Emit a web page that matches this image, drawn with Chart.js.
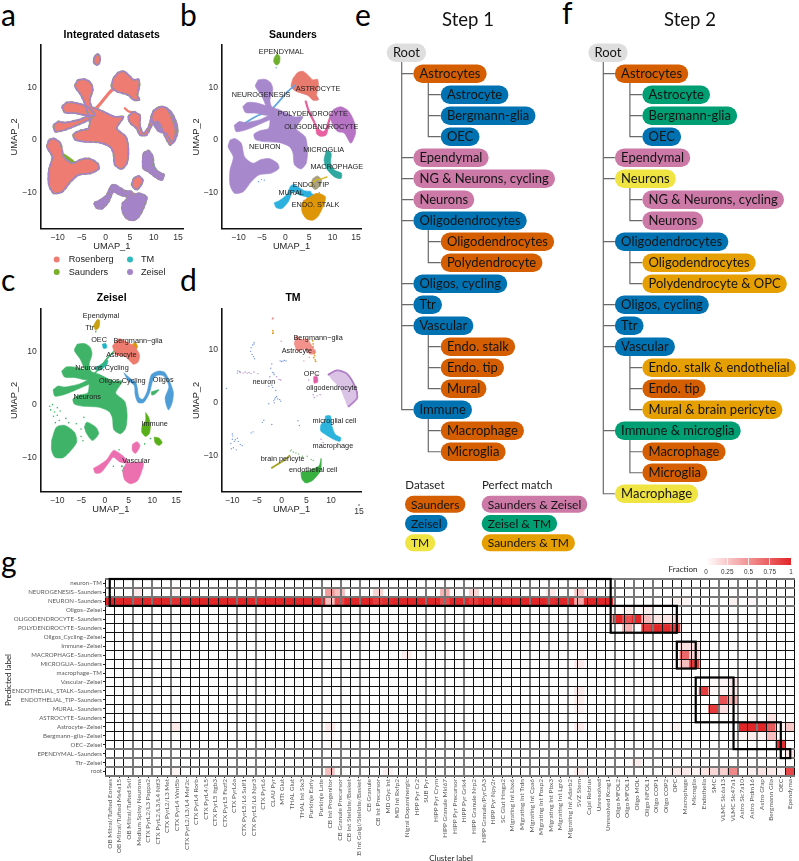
<!DOCTYPE html>
<html>
<head>
<meta charset="utf-8">
<title>Integrated datasets</title>
<script src="https://cdn.jsdelivr.net/npm/chart.js@4"></script>
<style>
  html, body { margin: 0; padding: 0; background: #fff; overflow: hidden; }
  #page { position: relative; width: 799px; height: 861px; }
  canvas { position: absolute; }
  .letter { position: absolute; font: 30px Lato, sans-serif; color: #000; line-height: 30px; }
</style>
</head>
<body>
<div id="page">
  <div class="letter" style="left:1px;top:-1px">a</div>
  <div class="letter" style="left:180px;top:-1px">b</div>
  <div class="letter" style="left:1px;top:264px">c</div>
  <div class="letter" style="left:180px;top:264px">d</div>
  <div class="letter" style="left:355px;top:-1px">e</div>
  <div class="letter" style="left:562px;top:-3px">f</div>
  <div class="letter" style="left:1px;top:546px">g</div>
</div>
<script>
// islands of the shared UMAP, traced by eye in UMAP units
const neuronCore = [[-5.8,11.4],[-4.3,11.5],[-3.1,10.8],[-2.7,9.5],[-3.3,7.6],[-2.9,6.3],[-1.2,5.7],[1.9,4.4],[3.7,4.4],[2.3,2.2],[4.2,.6],[4.7,-1.9],[4.4,-4.4],[3.3,-5.5],[1.9,-4.7],[1.6,-2.5],[.9,-1.3],[-1.2,-.5],[-4.6,-.3],[-6.4,.1],[-6.7,1.1],[-5.3,1.8],[-3.6,2.2],[-3.3,3.8],[-3.6,4.7],[-4.4,7],[-5.2,8.6],[-6.4,10.2]];
const neuronArmUpper = [[-9.1,6.3],[-8.1,7.1],[-6,7],[-3.6,6.2],[-2.2,4.7],[-4.3,4.7],[-6.4,5.1],[-8.5,5.2]];
const neuronArmLower = [[-10.9,2.8],[-9.8,3.5],[-8.5,3.3],[-5.3,3.9],[-3.3,4.7],[-2.9,4.1],[-6,2.8],[-8.5,1.9],[-10.5,1.6]];
const neuronLowerLeft = [[-11.8,0],[-10.8,.3],[-9.4,-.6],[-8.7,-3.2],[-6.9,-4.4],[-5.2,-3.7],[-3.5,-3.5],[-1.7,-4.4],[-1.4,-5.4],[-3.1,-6.3],[-5.6,-6.6],[-7.3,-7.9],[-9,-9.8],[-10.8,-10.1],[-11.8,-8.5],[-11.8,-5.7],[-11.1,-3.2],[-12.2,-1.3]];
const astroTop = [[1.6,11.7],[2.6,12.8],[3.8,13],[5.1,12],[5.8,11.4],[6.8,11.5],[7,10.3],[6.6,8.5],[7,7.6],[5.8,7.6],[4.7,8.5],[2.3,9.2],[1.2,10.1]];
const oligoRibbon = [[5.8,5.4],[7.1,4.7],[7.1,2.8],[7.8,1.3],[8.9,2.5],[9.9,5.4],[11.3,6.3],[12.7,6],[14.4,2.5],[14.4,.6],[13.4,-.95],[12,1.3],[11.4,2.8],[10.6,3.5],[9.6,2.8],[8.5,.95],[7.1,.95],[6.4,2.2],[5.1,3.2],[4.7,4.4]];
const oligoCrescent = [[9.4,4.4],[10.1,5.7],[11.8,6.3],[13.5,5.4],[14.7,3.2],[14.9,1.3],[13.9,-.6],[12.5,1.3],[11.1,1.6],[10.1,2.8]];
const immuneShape = [[7.8,-2.5],[8.9,-2],[9.8,-3.2],[10,-5.1],[10.9,-6],[12.1,-6.6],[11.6,-7.6],[10.3,-7],[8.9,-6],[7.8,-5.4],[7.7,-3.8]];
const macrophageThin = [[8.7,-1.9],[9.7,-2.5],[9.6,-4.4],[10.4,-5.7],[11.9,-6.3],[11.8,-7.3],[10.4,-7],[8.7,-5.4],[8.2,-3.8]];
const vascularSmall = [[5.8,-7.3],[6.8,-6.8],[7.7,-7.6],[7.1,-8.9],[6.3,-9.4],[5.4,-8.5]];
const muralArm = [[-2.4,-11.9],[-1.2,-11.4],[.2,-10.4],[1.1,-8.7],[1.9,-8.5],[4,-9.6],[5.4,-9.8],[5.1,-10.8],[3,-10.4],[1.6,-9.8],[.6,-11.7],[-.8,-13],[-2,-12.8]];
const endoStalk = [[4.7,-10.8],[6.8,-10.1],[8.5,-10.8],[7.8,-13],[6.8,-14.6],[5.8,-15.2],[4.4,-14.9],[3.5,-13.6],[3.5,-12],[4.2,-11.4]];
const ependymalBlob = [[-2.4,15.6],[-1.8,16.3],[-1.2,15.8],[-1.3,14.6],[-1.9,14.2],[-2.5,14.8]];
const neurogenesisStripe = [[-9.4,2.9],[-8.7,3.2],[-6,4.6],[-3.5,5.4],[-1.7,7],[.5,9.2],[2.1,10.4]];
const astroStripe = [[-2.2,5.8],[-1,7],[.6,8.8],[1.9,10]];
const hookSpur = [[4,6],[4.8,5.4],[5.8,5.2]];

// overlays of the integrated panel
const greenPatchLeft = [[-8.8,-2.5],[-6.4,-4.2],[-8.5,-4.9],[-9.8,-3.5]];
const greenPatchArm = [[1.9,1.3],[3.3,.3],[2.3,-.6],[1.2,.3]];
const greenPatchDrop = [[2,-2],[3.3,-3],[2.7,-5],[1.8,-4.5]];
const greenPatchOligo = [[10.6,4.75],[12.3,5],[13.4,1.6],[12,2.2],[10.9,3.2]];
const tealPatchOligo = [[12.1,3.4],[13,2.8],[13.5,-.2],[12.7,1.2]];
const purplePatchOligo = [[12.6,5.8],[14.3,2.6],[14.3,.6],[13.5,-.8],[13.9,1.8]];
const purplePatchAstro = [[5.2,8.6],[6.8,8.2],[6.9,7.7],[5.8,7.6]];
const purplePatchImmune = [[7.9,-4.4],[9.6,-4.5],[10.3,-7],[8.9,-6],[7.8,-5.4]];
const tealPatchImmune = [[9.6,-3.2],[10.2,-5],[11.2,-6.4],[10.2,-6.2]];
const purplePatchStalk = [[3.8,-11.4],[8.2,-11],[7.5,-13],[6.6,-14.4],[5.7,-14.9],[4.6,-14.6],[3.8,-13.5]];
const salmonStreakStalk = [[5.2,-10],[5.9,-10],[6,-14.6],[5.4,-14.6]];
const purpleStripeMural = [[1.7,-8.9],[4,-9.9],[5.6,-10.4]];
const salmonVascularDot = [[5.9,-7.5],[7.3,-7.6],[6.8,-8.8],[6,-8.8]];

// Saunders panel extras
const astroPurplePatch = [[2.4,9.8],[4.6,9.6],[5.2,8.4],[4.4,8.6],[3,9.1]];
const polyStripe = [[4.3,7.3],[4.9,5.6],[6.2,3.2],[7.2,1.3],[8.4,1.2],[9.1,3.2],[9.8,5]];
const polyBlob = [[6.5,2.6],[8,1.6],[9.1,2.6],[8.6,.9],[7.4,.7],[6.6,1.2]];
const endoTipStripe = [[5.4,-8.6],[6.4,-7.6],[7.4,-7.4],[8.8,-7]];
const mural2Stripe = [[2.4,-9.8],[4.2,-10.1],[5.6,-10.3]];
const saundersSpeck = [[-2,13.7],[-1.6,15.3],[-4.5,-7.6],[-5.1,-7.5],[-5.7,-7.9],[-3.4,2.4],[7.2,-10],[1.5,-12.2]];

// Zeisel panel
const zeiselLowerLeft = [[-11.2,-6.75],[-10.2,-4.25],[-8.5,-3.9],[-6.4,-5.2],[-5.9,-7],[-7.1,-8.6],[-8.8,-10],[-10.5,-9.9],[-11.2,-8.6]];
const zeiselLowerRight = [[-4.3,-4.25],[-3.8,-3.3],[-1.9,-4.25],[-1.3,-5.5],[-2.6,-6.75],[-3.8,-5.5]];
const zeiselEpendymal = [[-2.4,14.8],[-1.6,16],[-1.1,15.9],[-1.2,14.6],[-1.9,14]];
const zeiselOec = [[-.5,11.4],[.2,11.5],[.4,10.7],[-.3,10.6]];
const zeiselBergmann = [[5.4,11],[6.4,11.7],[6.9,10.8],[6,10.2]];
const zeiselAstrocyte = [[1.6,11],[3,12.4],[4.6,11.8],[6.2,11],[7.3,9.4],[7,8],[6,7.6],[4.4,9],[2.4,9.4]];
const zeiselCycling = [[-2.2,6.8],[-.4,7.8],[.6,8.4],[.5,7.6],[-1.2,6.4]];
const zeiselOligoRibbon = [[4,6],[5.4,4.9],[6.6,4],[7.2,1.4],[8,1],[8.9,2.4],[9.8,5.6],[11.2,6.3],[12.7,6],[14.4,2.5],[14.2,.4],[13.4,-1],[12.7,1.2],[13.5,3.4],[12.4,5.4],[11,5.5],[10.2,4.8],[9.4,2.2],[8.2,.4],[7,.4],[6.4,1.8],[6.2,3.6],[4.8,4.7]];
const zeiselGreenSpur = [[9.8,2.4],[11.4,2.8],[10.6,2],[9.9,1.8]];
const zeiselImmune = [[8.6,-1.5],[9.3,-2.5],[9.6,-4],[9.4,-5.4],[8.6,-6],[7.8,-5.2],[7.9,-3.9],[8.6,-3]];
const zeiselImmune2 = [[10.4,-6.1],[11.4,-6.3],[12.1,-7.2],[11.4,-7.7],[10.6,-7.2]];
const zeiselVascularTop = [[5.8,-7.5],[6.8,-7],[7.4,-7.7],[7,-8.6],[6.4,-9.2],[5.8,-8.6]];
const zeiselMural = [[-2.4,-12],[-1.2,-11.4],[.4,-10.4],[1.4,-9],[2,-8.6],[4,-9.8],[5,-11],[3.2,-10.8],[1.8,-9.9],[.8,-11],[-.8,-12.8],[-2,-12.9]];
const zeiselVascular = [[4.4,-11.2],[6,-10.9],[8.1,-11],[7.6,-13],[6.8,-14.4],[5.4,-14.9],[4.2,-14.2],[3.8,-12.6]];
const zeiselSpeck = [[-11.6,-.3],[-11,0],[-11.4,-1],[-10.6,-1.4],[-10.8,-2.2],[-10,-.6],[-10,-2],[-9.6,-3],[-10.4,-3.4],[-9.4,-1.2],[-8.2,-2.6],[-7.6,-3.4],[-6,-3.6],[-5,-4.6],[-5,-6],[-4.6,-6.8],[-1.9,13.7],[-4.4,-2.4],[3,-8.5],[1.8,-11.6],[8.4,-7.4],[9.6,-6.4]];
const zeiselGreenSpeck = [[4,-12],[3.8,-12.4],[4.4,-12.6],[3.6,-11.6],[4.2,-11.8]];

// TM panel, single cells
const tmNeuronX = [-5.6,-5.9,-6.2,-6.3,-6,-5.7,-5.5,-5.6,-8.9,-9,-8.5,-2,-2.2,-1.8,-1.5,-2.4,-2,-.3,0,.3,.6,.9,-1.6,-1.4,-1.2,-1,-.8,-.4,-.2,-1.5,-2.6,-1.8,-1.2,-3.6,-3.9,-9.9,-10,-9.6,-10.3,-9.4,-9,-8.8,-8.4,-10.2,-9.8,-9.2,-10,-8,-6.2,-5.8,-1.6,-2.6,3.3,3.6,-2,-11.2];
const tmNeuronY = [11.3,10.8,10.3,9.6,9,8.6,8.2,11,5.9,5.5,5.8,7.2,6.4,5.6,5.2,4.8,3.2,7.8,7.7,7.8,7.9,7.8,.3,.6,.9,1.1,.6,.5,.2,-.1,-.3,2.8,2.2,-3.4,-3.8,-6.4,-7,-7.4,-7.8,-7.1,-6.8,-7.4,-8,-8.8,-8.6,-9,-6,-8.2,-5.8,-5.6,5.5,3,-3.5,-4.4,-4.2,2.6];
const tmPurpleX = [-8.4,-7.8,-7.4,-7,-6.6,-6.2,-5.6,-.5,-4.8,-1,-.2,8.4,8,5.5,6.4,7.2,7.8,6.6];
const tmPurpleY = [5.6,5.5,5.7,5.5,5.6,5.4,5.7,4.3,5.4,4.8,4.2,-7.6,-7,4.2,1.4,1.2,1.4,.9];
const tmBergmann = [[2.5,11],[3,12.6],[4,11.9],[5.2,12],[6.2,10.6],[7,9.4],[5.8,9],[4.6,10],[3.2,9.6]];
const tmOrangeX = [6.3,6.4,6.4,6.5,6.6,6.7,6.5,6.8,6.9,-1.8,-1.7,-1.8];
const tmOrangeY = [11.6,11,10.5,9.6,9.2,8.8,8.4,8,7.7,13.5,13.1,13];
const tmRedX = [-1.8,-1.9,-1.7,-.1,5.6,4.5,7.2];
const tmRedY = [15.9,15.7,15.8,11.5,8.5,7.8,5.2];
const tmOpc = [[6.5,4.8],[7.2,4.8],[7.3,3.8],[6.6,3.6]];
const tmOligo = [[9.5,5.2],[11.2,6.1],[13.2,5.5],[15.1,2.7],[15.5,.8],[13.5,-.9],[12.8,.5],[11.8,2.7],[10.2,4.25]];
const tmOligoEdge = [[9.5,5.2],[11.2,6],[13.2,5.4],[15,2.7],[15.3,.8],[13.6,-.8]];
const tmMicroglia = [[8.9,-2.6],[9.9,-2.6],[10.2,-4.5],[10.9,-6.1],[12,-6.7],[11.8,-7.4],[10.5,-7],[8.9,-6.1],[7.9,-5.4],[8,-4.2],[8.7,-3.6]];
const tmPinkSpot = [[9,-5.6],[10,-5.6],[9.8,-6],[9.1,-6]];
const tmEndothelial = [[3.9,-13.25],[5.6,-12.9],[7.6,-12],[8,-10.6],[7.9,-12.9],[6.25,-14.8],[4.9,-15.25],[4.1,-14.5]];
const tmPericyte = [[-2,-12.4],[-.6,-11.6],[.6,-10.9],[1.6,-10.1]];
const tmGreenX = [2,2.4,2.9,3.4,4.2,5.2,6,6.4,1.8];
const tmGreenY = [-9,-9.4,-9.6,-9.8,-10.2,-10.2,-10.8,-11,-9.2];

// text placed on the UMAP panels
const saundersText = ['EPENDYMAL','ASTROCYTE','NEUROGENESIS','POLYDENDROCYTE','OLIGODENDROCYTE','NEURON','MICROGLIA','MACROPHAGE','ENDO. TIP','MURAL','ENDO. STALK'];
const saundersTextX = [-.9,6.9,-5.2,5.8,7.6,-4.4,8.1,10.9,5.4,1.2,6.4];
const saundersTextY = [16.6,9.7,8.5,4.9,2.4,-1.3,-1.8,-5.1,-8.6,-10,-12.3];
const zeiselText = ['Ependymal','Ttr','OEC','Bergmann\u2212glia','Astrocyte','Neurons,Cycling','Oligos,Cycling','Oligos','Neurons','Immune','Vascular'];
const zeiselTextX = [-.8,-3.2,-1.2,7,3.5,-.6,3.7,12.3,-3.7,10.5,6.6];
const zeiselTextY = [16.6,14.4,12.2,12,9.3,6.8,4.4,4.6,1.5,-3.6,-10.7];
const tmText = ['Bergmann\u2212glia','Astrocyte','OPC','neuron','oligodendrocyte','microglial cell','macrophage','brain pericyte','endothelial cell'];
const tmTextX = [7.4,3.1,6.1,-3.6,10.2,10.7,10.4,.2,6.4];
const tmTextY = [12.1,9.7,5.4,3.9,2.6,-3.5,-8.25,-10.75,-12.75];

// hierarchy panels
const step1Labels = ['Root','Astrocytes','Astrocyte','Bergmann-glia','OEC','Ependymal','NG & Neurons, cycling','Neurons','Oligodendrocytes','Oligodendrocytes','Polydendrocyte','Oligos, cycling','Ttr','Vascular','Endo. stalk','Endo. tip','Mural','Immune','Macrophage','Microglia'];
const step1Depths = [0,1,2,2,2,1,1,1,1,2,2,1,1,1,2,2,2,1,2,2];
const step1Groups = ['root','saunders','zeisel','zeisel','zeisel','saundersZeisel','saundersZeisel','saundersZeisel','zeisel','saunders','saunders','zeisel','zeisel','zeisel','saunders','saunders','saunders','zeisel','saunders','saunders'];
const step2Labels = ['Root','Astrocytes','Astrocyte','Bergmann-glia','OEC','Ependymal','Neurons','NG & Neurons, cycling','Neurons','Oligodendrocytes','Oligodendrocytes','Polydendrocyte & OPC','Oligos, cycling','Ttr','Vascular','Endo. stalk & endothelial','Endo. tip','Mural & brain pericyte','Immune & microglia','Macrophage','Microglia','Macrophage'];
const step2Depths = [0,1,2,2,2,1,1,2,2,1,2,2,1,1,1,2,2,2,1,2,2,1];
const step2Groups = ['root','saunders','zeiselTm','zeiselTm','zeisel','saundersZeisel','tm','saundersZeisel','saundersZeisel','zeisel','saundersTm','saundersTm','zeisel','zeisel','zeisel','saundersTm','saunders','saundersTm','zeiselTm','saunders','saunders','tm'];
const datasetLegend = ['Saunders','Zeisel','TM'];
const datasetLegendGroups = ['saunders','zeisel','tm'];
const matchLegend = ['Saunders & Zeisel','Zeisel & TM','Saunders & TM'];
const matchLegendGroups = ['saundersZeisel','zeiselTm','saundersTm'];

// heatmap
const predictedLabels = ['neuron\u2212TM','NEUROGENESIS\u2212Saunders','NEURON\u2212Saunders','Oligos\u2212Zeisel','OLIGODENDROCYTE\u2212Saunders','POLYDENDROCYTE\u2212Saunders','Oligos_Cycling\u2212Zeisel','Immune\u2212Zeisel','MACROPHAGE\u2212Saunders','MICROGLIA\u2212Saunders','macrophage\u2212TM','Vascular\u2212Zeisel','ENDOTHELIAL_STALK\u2212Saunders','ENDOTHELIAL_TIP\u2212Saunders','MURAL\u2212Saunders','ASTROCYTE\u2212Saunders','Astrocyte\u2212Zeisel','Bergmann\u2212glia\u2212Zeisel','OEC\u2212Zeisel','EPENDYMAL\u2212Saunders','Ttr\u2212Zeisel','root'];
const clusterLabels = ['OB Mitral/Tufted Eomes','OB Mitral/Tufted Ms4a15','OB Mitral/Tufted Svil','Medium Spiny Neurons','CTX PyrL2/L3 Pappa2','CTX PyrL2/L3/L4 Ntf3','CTX PyrL2/L3 Met','CTX PyrL4 Wnt5b','CTX PyrL2/L3/L4 Mef2c','CTX PyrL4 Rorb','CTX PyrL4/L5','CTX PyrL5 Itgb3','CTX PyrL5 Fezf2','CTX PyrL6a','CTX PyrL5/L6 Sulf1','CTX PyrL5/L6 Npr3','CTX PyrL6','CLAU Pyr','MTt Glut','THAL Glut','THAL Int Six3','Purkinje Early','Purkinje Late','CB Int Progenitor','CB Granule Precursor','CB Int Stellate/Basket','CB Int Golgi/Stellate/Basket','CB Granule','CB Int Precursor','MD Glyc Int','MD Int Rxfp2','Nigral Dopaminergic','HPP Pyr Cr2','SUB Pyr','HIPP Pyr Crym','HIPP Granule Mki67','HIPP Pyr Precursor','HIPP Pyr Grik4','HIPP Granule Nrp2','HIPP Granule/PyrCA3','HIPP Pyr Npy2r','SC Glut Hmga2','Migrating Int Lhx6','Migrating Int Trdn','Migrating Int Cpa6','Migrating Int Foxp2','Migrating Int Pbx3','Migrating Int Lgr6','Migrating Int Adarb2','SVZ Stem','Cajal Retzius','Unresolved','Unresolved Kcng1','Oligo MFOL2','Oligo MFOL1','Oligo MOL','Oligo NFOL1','Oligo COP1','Oligo COP2','OPC','Macrophage','Microglia','Endothelia','SMC','VLMC Slc6a13','VLMC Slc47a1','Astro Slc7a10','Astro Prdm16','Astro Gfap','Bergmann Glia','OEC','Ependyma'];
const neuronRowFractions = [1,1,1,.97,1,1,1,.95,1,1,1,1,1,1,1,1,1,1,1,1,1,1,1,.3,.85,1,1,1,.9,.97,1,1,1,1,1,.85,1,1,.9,1,1,1,1,1,1,1,.95,1,1,.4,1,1,1];
// row, column, fraction
const otherFractions = [
  [1,3,.1],[1,7,.06],[1,23,.45],[1,24,.3],[1,28,.2],[1,35,.35],[1,36,.03],[1,38,.2],[1,46,.1],[1,49,.25],
  [2,59,.06],[2,60,.05],[2,65,.06],[2,67,.03],
  [3,54,.08],[3,56,.08],
  [4,53,1],[4,54,.8],[4,55,1],[4,56,.3],[4,57,.12],[4,58,.12],[4,59,.12],
  [5,54,.35],[5,56,.9],[5,57,1],[5,58,.98],[5,59,.88],
  [7,60,.15],[7,61,.15],
  [8,31,.08],[8,60,.7],[8,61,.2],
  [9,49,.1],[9,60,.3],[9,61,.9],
  [11,63,.03],[11,64,.05],[11,65,.12],
  [12,49,.1],[12,62,.9],[12,63,.03],[12,64,.05],[12,65,.1],
  [13,49,.08],[13,64,.8],[13,65,.35],
  [14,49,.06],[14,63,.9],[14,64,.15],
  [15,66,.02],[15,67,.05],[15,69,.12],
  [16,7,.1],[16,23,.1],[16,49,.1],[16,59,.07],[16,66,1],[16,67,1],[16,68,1],[16,69,.75],[16,70,.07],[16,71,.25],
  [17,23,.03],[17,66,.05],[17,67,.08],[17,68,.06],[17,69,.3],
  [18,23,.02],[18,70,.95],
  [19,71,.12],
  [20,55,.08],
  [21,7,.05],[21,23,.3],[21,24,.02],[21,29,.07],[21,49,.08],[21,59,.1],[21,60,.1],[21,61,.05],[21,62,.12],[21,63,.18],[21,64,.22],[21,65,.55],[21,67,.07],[21,68,.12],[21,69,.1],[21,70,.06],[21,71,.85]
];
// outlined blocks: first column, last column, first row, last row
const matchBoxes = [[0,52,0,2],[53,59,3,5],[60,61,7,9],[62,65,11,15],[66,70,16,18],[71,71,19,19]];
const fractionTicks = [0,.25,.5,.75,1];

const salmon = '#EE7C72', green = '#7CAE2E', teal = '#2FB9BE', purple = '#A583C8';
const groupColors = {root:'#DEDEDE', saunders:'#D55E00', zeisel:'#0072B2', tm:'#F0E442', saundersZeisel:'#CC79A7', zeiselTm:'#009E73', saundersTm:'#E69F00'};
const sansFont = '"Liberation Sans", Arial, sans-serif';
const treeFont = 'Lato, sans-serif';

Chart.defaults.animation = false;
Chart.defaults.responsive = false;
Chart.defaults.plugins.legend.display = false;
Chart.defaults.plugins.tooltip.enabled = false;

function makeCanvas(left, top, width, height) {
  const c = document.createElement('canvas');
  c.width = width; c.height = height;
  c.style.left = left + 'px'; c.style.top = top + 'px';
  c.style.width = width + 'px'; c.style.height = height + 'px';
  document.getElementById('page').appendChild(c);
  return c;
}

// free text and data anchored text
const textLayer = {
  id: 'textLayer',
  afterDraw(chart, args, opts) {
    const ctx = chart.ctx;
    ctx.save();
    ctx.textBaseline = 'middle';
    (opts.anchored || []).forEach(a => {
      ctx.font = '7.3px ' + sansFont;
      ctx.fillStyle = '#222';
      ctx.textAlign = 'center';
      a.text.forEach((t, i) => {
        ctx.fillText(t, chart.scales.x.getPixelForValue(a.xs[i]), chart.scales.y.getPixelForValue(a.ys[i]));
      });
    });
    (opts.items || []).forEach(it => {
      ctx.save();
      ctx.translate(it.x, it.y);
      if (it.rot) ctx.rotate(it.rot);
      ctx.font = it.font;
      ctx.fillStyle = it.color || '#000';
      ctx.textAlign = it.align || 'center';
      ctx.fillText(it.text, 0, 0);
      ctx.restore();
    });
    (opts.dots || []).forEach(d => {
      ctx.beginPath();
      ctx.arc(d.x, d.y, d.r, 0, Math.PI * 2);
      ctx.fillStyle = d.color;
      ctx.fill();
    });
    ctx.restore();
  }
};

// fills a closed line dataset with its own path
const blobFill = {
  id: 'blobFill',
  beforeDatasetDraw(chart, args) {
    const color = chart.data.datasets[args.index].shapeFill;
    if (!color) return;
    const ctx = chart.ctx, area = chart.chartArea;
    args.meta.dataset.updateControlPoints(area, 'x');
    ctx.save();
    ctx.beginPath();
    ctx.rect(area.left, area.top, area.right - area.left, area.bottom - area.top);
    ctx.clip();
    ctx.beginPath();
    args.meta.dataset.path(ctx);
    ctx.closePath();
    ctx.fillStyle = color;
    ctx.fill();
    ctx.restore();
  }
};

function toPoints(list) { return list.map(p => ({x: p[0], y: p[1]})); }
function blob(list, color, edge, edgeWidth) {
  return {data: toPoints(list.concat([list[0]])), fill: false, shapeFill: color, backgroundColor: 'transparent',
    borderColor: edge || color, borderWidth: edgeWidth === undefined ? .6 : edgeWidth, tension: .25, pointRadius: 0, borderJoinStyle: 'round'};
}
function fuzzy(set) { set.borderDash = [3, 2]; return set; }
function stripe(list, color, width) {
  return {data: toPoints(list), fill: false, borderColor: color, borderWidth: width, tension: .25, pointRadius: 0, borderCapStyle: 'round'};
}
function cells(xs, ys, color, r) {
  return {data: xs.map((x, i) => ({x: x, y: ys[i]})), showLine: false, pointRadius: r, pointBackgroundColor: color, pointBorderWidth: 0};
}
function speck(list, color, r) {
  return {data: toPoints(list), showLine: false, pointRadius: r, pointBackgroundColor: color, pointBorderWidth: 0};
}

function umapPanel(box, sets, range, text) {
  const canvas = makeCanvas(box.left, box.top, box.width, box.height);
  const xAxisHeight = 23.5, titleInset = box.titleX - 5.6;
  return new Chart(canvas, {
    type: 'line',
    data: {datasets: sets},
    plugins: [blobFill, textLayer],
    options: {
      layout: {padding: {top: box.areaTop - box.top, right: box.width - box.areaRight + box.left, bottom: box.top + box.height - box.areaBottom - xAxisHeight, left: titleInset}},
      scales: {
        x: {type: 'linear', min: range.x0, max: range.x1,
          grid: {display: false, drawOnChartArea: false, tickLength: 3, tickColor: '#222'},
          border: {color: '#111', width: 1.6},
          afterFit(s) { s.height = xAxisHeight; },
          ticks: {stepSize: 5, includeBounds: false, autoSkip: false, maxRotation: 0, color: '#333', padding: 1, font: {family: sansFont, size: 8.6},
            callback: v => (range.hide15 && v === 15) ? '' : String(v).replace('-', '\u2212')},
          title: {display: true, text: 'UMAP_1', color: '#222', font: {family: sansFont, size: 9.3}, padding: {top: 0, bottom: 0}}},
        y: {type: 'linear', min: range.y0, max: range.y1,
          grid: {display: false, drawOnChartArea: false, tickLength: 3, tickColor: '#222'},
          border: {color: '#111', width: 1.6},
          afterFit(s) { s.width = box.areaLeft - box.left - titleInset; },
          ticks: {stepSize: 10, includeBounds: false, color: '#333', padding: 1, font: {family: sansFont, size: 8.6},
            callback: v => String(v).replace('-', '\u2212')},
          title: {display: true, text: 'UMAP_2', color: '#222', font: {family: sansFont, size: 9.3}, padding: {top: 0, bottom: 0}}}
      },
      plugins: {textLayer: text}
    }
  });
}

// a, integrated datasets
const islandsA = [neuronLowerLeft, neuronArmLower, neuronArmUpper, neuronCore, astroTop, oligoRibbon, oligoCrescent, immuneShape, vascularSmall, muralArm, endoStalk, ependymalBlob];
const integrated = [];
islandsA.forEach(s => integrated.push(blob(s, null, purple, 1.7)));
islandsA.forEach(s => integrated.push(fuzzy(blob(s, null, green, 1.9))));
[neuronLowerLeft, neuronArmLower, neuronArmUpper, neuronCore, astroTop, oligoRibbon, vascularSmall, ependymalBlob].forEach(s => integrated.push(blob(s, salmon, salmon, .4)));
integrated.push(stripe(astroStripe, salmon, 3.2), stripe(hookSpur, salmon, 2.4));
integrated.push(blob(oligoCrescent, purple, purple, .4), blob(greenPatchOligo, green), blob(tealPatchOligo, teal), blob(purplePatchOligo, purple));
integrated.push(blob(immuneShape, purple, purple, .4), blob(tealPatchImmune, teal), blob(purplePatchImmune, purple));
integrated.push(blob(muralArm, purple, purple, .4), blob(endoStalk, purple, purple, .4), blob(salmonStreakStalk, salmon), stripe(purpleStripeMural, purple, 2));
integrated.push(blob(greenPatchLeft, green), blob(greenPatchArm, green), blob(greenPatchDrop, green), blob(purplePatchAstro, purple), blob(salmonVascularDot, salmon));
umapPanel({left: 0, top: 0, width: 185, height: 285, titleX: 14, areaLeft: 40.7, areaRight: 183, areaTop: 45, areaBottom: 228.7}, integrated,
  {x0: -13.5, x1: 16.05, y0: -16.8, y1: 18},
  {items: [
    {text: 'Integrated datasets', x: 111.7, y: 35, font: 'bold 10.5px ' + sansFont},
    {text: 'Rosenberg', x: 68.7, y: 259.5, font: '9.2px ' + sansFont, align: 'left', color: '#222'},
    {text: 'Saunders', x: 68.7, y: 272, font: '9.2px ' + sansFont, align: 'left', color: '#222'},
    {text: 'TM', x: 141, y: 259.5, font: '9.2px ' + sansFont, align: 'left', color: '#222'},
    {text: 'Zeisel', x: 141, y: 272, font: '9.2px ' + sansFont, align: 'left', color: '#222'}],
   dots: [{x: 56.7, y: 259.5, r: 3, color: salmon}, {x: 56.7, y: 272, r: 3, color: green}, {x: 130, y: 259.5, r: 3, color: teal}, {x: 130, y: 272, r: 3, color: purple}]});

// b, Saunders
const saundersPurple = '#A788CC', sMagenta = '#E8609F', sOligo = '#B774C4', sTeal = '#2FA9A0', sBlue = '#62A6E2', sSky = '#2CB1DF', sGold = '#DF9508';
umapPanel({left: 180, top: 0, width: 185, height: 285, titleX: 16.7, areaLeft: 222, areaRight: 364, areaTop: 45, areaBottom: 228.7}, [
  blob(neuronLowerLeft, saundersPurple), blob(neuronArmLower, saundersPurple), blob(neuronArmUpper, saundersPurple), blob(neuronCore, saundersPurple),
  stripe(neurogenesisStripe, sBlue, 1.8), blob(astroTop, '#E87A6E'), blob(astroPurplePatch, saundersPurple), blob(purplePatchAstro, saundersPurple),
  blob(oligoCrescent, sOligo), stripe(polyStripe, sMagenta, 2.2), blob(polyBlob, sMagenta),
  blob(macrophageThin, sTeal), stripe(endoTipStripe, '#D8B61E', 1.4), blob(vascularSmall, '#A9A080'), stripe(mural2Stripe, sSky, 2.2),
  blob(muralArm, sSky), blob(endoStalk, sGold), blob(purplePatchStalk, '#C58F60'), blob(ependymalBlob, '#6FB02E'), speck(saundersSpeck, sBlue, .7)
], {x0: -13.5, x1: 16.05, y0: -16.8, y1: 18},
  {anchored: [{text: saundersText, xs: saundersTextX, ys: saundersTextY}],
   items: [{text: 'Saunders', x: 113, y: 35, font: 'bold 10.5px ' + sansFont}]});

// c, Zeisel
const zGreen = '#3FB368', zRed = '#EE7C6E', zBlue = '#4E9DD6', zImmune = '#58B018', zPink = '#EC70B0';
umapPanel({left: 0, top: 285, width: 185, height: 250, titleX: 14, areaLeft: 40.7, areaRight: 183, areaTop: 309, areaBottom: 491.7}, [
  blob(zeiselLowerLeft, zGreen), blob(zeiselLowerRight, zGreen), blob(neuronArmLower, zGreen), blob(neuronArmUpper, zGreen), blob(neuronCore, zGreen), speck(zeiselSpeck, zGreen, .8),
  stripe(astroStripe, zGreen, 1.6), blob(zeiselCycling, '#24B6A2'), blob(zeiselAstrocyte, zRed), blob(zeiselBergmann, '#D9960C'), blob(zeiselOec, '#1DB4C6'),
  blob(zeiselEpendymal, '#C7A010'), blob(zeiselOligoRibbon, zBlue), blob(zeiselGreenSpur, zGreen),
  blob(zeiselImmune, zImmune), blob(zeiselImmune2, zImmune), blob(zeiselVascularTop, zPink), blob(zeiselMural, zPink), blob(zeiselVascular, zPink), speck(zeiselGreenSpeck, zGreen, 1)
], {x0: -13.5, x1: 16.05, y0: -16.4, y1: 18},
  {anchored: [{text: zeiselText, xs: zeiselTextX, ys: zeiselTextY}],
   items: [{text: 'Zeisel', x: 111.7, y: 13, font: 'bold 10.5px ' + sansFont}]});

// d, TM
umapPanel({left: 180, top: 285, width: 185, height: 250, titleX: 16.7, areaLeft: 222, areaRight: 365, areaTop: 309, areaBottom: 491.7}, [
  cells(tmNeuronX, tmNeuronY, '#7397E0', .7), cells(tmPurpleX, tmPurpleY, '#BC86D2', .7),
  blob(tmBergmann, 'rgba(238,110,100,.75)', 'rgba(238,110,100,.75)', 0), cells(tmOrangeX, tmOrangeY, '#E4A02C', .9), cells(tmRedX, tmRedY, '#F0908A', .7), blob(tmOpc, '#E25FA8'),
  blob(tmOligo, 'rgba(190,146,210,.55)', 'rgba(190,146,210,.55)', 0), stripe(tmOligoEdge, '#A86FC0', 1.8), blob(tmMicroglia, '#2CB4DC'), blob(tmPinkSpot, '#D28BD0'), blob(tmEndothelial, '#38B040'),
  stripe(tmPericyte, '#A8A528', 1.8), cells(tmGreenX, tmGreenY, '#6FBF6A', .7)
], {x0: -12.1, x1: 16.1, y0: -16.9, y1: 17.6, hide15: true},
  {anchored: [{text: tmText, xs: tmTextX, ys: tmTextY}],
   items: [{text: 'TM', x: 113, y: 13, font: 'bold 10.5px ' + sansFont},
     {text: '15', x: 179, y: 227, font: '8.6px ' + sansFont, color: '#333'}],
   dots: [{x: 179, y: 220, r: .7, color: '#222'}]});

// e and f, the trees, x runs in pixels of the panel and y in rows
function treeLinks(depths, base) {
  const out = [];
  const trunkX = [base + 15, base + 41.6];
  const leftX = [base, base + 26.6, base + 54];
  depths.forEach((d, i) => {
    if (d === 0) return;
    let parent = i - 1;
    while (depths[parent] >= d) parent--;
    let last = i;
    for (let j = i + 1; j < depths.length && depths[j] >= d; j++) if (depths[j] === d) last = j;
    if (last === i) {
      out.push({x: trunkX[d - 1], y: parent}, {x: trunkX[d - 1], y: i}, {x: leftX[d], y: i}, {x: NaN, y: NaN});
    } else {
      out.push({x: trunkX[d - 1], y: i}, {x: leftX[d], y: i}, {x: NaN, y: NaN});
    }
  });
  return out;
}
const treeStyle = {rowHeight: 18.4, fontSize: 13, pad: 6.2};
const treePills = {
  id: 'treePills',
  afterDatasetsDraw(chart, args, opts) {
    const ctx = chart.ctx, sx = chart.scales.x, sy = chart.scales.y;
    ctx.save();
    ctx.textBaseline = 'middle';
    function pill(label, group, left, row, size, h, pad) {
      ctx.font = size + 'px ' + treeFont;
      const w = ctx.measureText(label).width + pad * 2;
      const px = sx.getPixelForValue(left), py = sy.getPixelForValue(row);
      ctx.beginPath();
      ctx.roundRect(px, py - h / 2, w, h, h / 2);
      ctx.fillStyle = groupColors[group];
      ctx.fill();
      ctx.fillStyle = '#141414';
      ctx.textAlign = 'left';
      ctx.fillText(label, px + pad, py + .5);
    }
    opts.trees.forEach(t => {
      t.labels.forEach((label, i) => {
        pill(label, t.groups[i], t.base + [0, 26.6, 54][t.depths[i]], i, treeStyle.fontSize, treeStyle.rowHeight, treeStyle.pad);
      });
    });
    datasetLegend.forEach((l, i) => pill(l, datasetLegendGroups[i], 35, 21.5 + i * .92, 12, 17, 6));
    matchLegend.forEach((l, i) => pill(l, matchLegendGroups[i], 111.7, 21.5 + i * .92, 12, 17, 6));
    ctx.font = '11.5px ' + treeFont;
    ctx.fillStyle = '#222';
    ctx.fillText('Dataset', sx.getPixelForValue(35.3), sy.getPixelForValue(20.6));
    ctx.fillText('Perfect match', sx.getPixelForValue(112), sy.getPixelForValue(20.6));
    ctx.font = '18.5px ' + treeFont;
    ctx.textAlign = 'center';
    ctx.fillStyle = '#111';
    ctx.fillText('Step 1', sx.getPixelForValue(98), sy.getPixelForValue(-1.56));
    ctx.fillText('Step 2', sx.getPixelForValue(320), sy.getPixelForValue(-1.56));
    ctx.restore();
  }
};
function linkSet(depths, base) {
  return {data: treeLinks(depths, base), borderColor: '#6a6a6a', borderWidth: 1.2, pointRadius: 0, spanGaps: false, tension: 0};
}
new Chart(makeCanvas(370, 0, 429, 575), {
  type: 'line',
  data: {datasets: [linkSet(step1Depths, 16.7), linkSet(step2Depths, 218.3)]},
  plugins: [treePills],
  options: {
    layout: {padding: 0},
    scales: {x: {type: 'linear', display: false, min: 0, max: 429}, y: {display: false, reverse: true, min: -2.51, max: 24.87}},
    plugins: {treePills: {trees: [
      {labels: step1Labels, depths: step1Depths, groups: step1Groups, base: 16.7},
      {labels: step2Labels, depths: step2Depths, groups: step2Groups, base: 218.3}]}}
  }
});

// g, heatmap from floating bars
function fractionColor(v) {
  const mix = (a, b) => Math.round(a + (b - a) * v);
  return 'rgb(' + mix(255, 226) + ',' + mix(255, 38) + ',' + mix(255, 40) + ')';
}
const rowSets = predictedLabels.map((name, r) => {
  const vals = new Array(clusterLabels.length).fill(0);
  if (r === 2) neuronRowFractions.forEach((v, c) => { vals[c] = v; });
  otherFractions.forEach(o => { if (o[0] === r) vals[o[1]] = o[2]; });
  return {label: name, data: vals.map(v => v > 0 ? [r, r + 1] : null), backgroundColor: vals.map(fractionColor),
    yAxisID: 'yGrid', barPercentage: 1, categoryPercentage: 1, borderWidth: 0};
});
const boxLayer = {
  id: 'boxLayer',
  afterDraw(chart) {
    const ctx = chart.ctx, sx = chart.scales.xGrid, sy = chart.scales.yGrid;
    ctx.save();
    ctx.strokeStyle = '#000';
    ctx.lineWidth = 2.2;
    matchBoxes.forEach(b => {
      const x0 = sx.getPixelForValue(b[0]), x1 = sx.getPixelForValue(b[1] + 1);
      const y0 = sy.getPixelForValue(b[2]), y1 = sy.getPixelForValue(b[3] + 1);
      ctx.strokeRect(x0, y0, x1 - x0, y1 - y0);
    });
    ctx.restore();
  }
};
// a hairline between two device pixels shows as a wider gray line
function hairWidth(c) {
  if (!c.tick) return 1;
  const p = c.scale.getPixelForValue(c.tick.value);
  return Math.abs(p - Math.floor(p) - .5) > .36 ? 2 : 1;
}
function hairColor(c) { return hairWidth(c) === 2 ? '#777' : '#111'; }
const gridText = '#5a5a5a';
new Chart(makeCanvas(0, 570, 799, 291), {
  type: 'bar',
  data: {labels: clusterLabels, datasets: rowSets},
  plugins: [boxLayer, textLayer],
  options: {
    layout: {padding: {top: 9, right: 2, bottom: 5, left: 0}},
    scales: {
      x: {stacked: true, offset: true, position: 'bottom',
        grid: {offset: false, drawOnChartArea: false, tickLength: 2, tickColor: '#222'},
        border: {display: false},
        afterFit(s) { s.height = 80; },
        ticks: {autoSkip: false, minRotation: 90, maxRotation: 90, padding: 1, color: gridText, font: {family: treeFont, size: 6.5}}},
      xGrid: {type: 'linear', position: 'bottom', min: 0, max: 72,
        grid: {color: hairColor, lineWidth: hairWidth, z: 1, drawTicks: false},
        border: {display: false},
        afterFit(s) { s.height = 0; },
        ticks: {display: false, stepSize: 1, autoSkip: false}},
      yGrid: {type: 'linear', position: 'left', reverse: true, min: 0, max: 22,
        grid: {color: hairColor, lineWidth: hairWidth, z: 1, drawTicks: false},
        border: {display: false},
        afterFit(s) { s.width = 0; },
        ticks: {display: false, stepSize: 1, autoSkip: false}},
      yNames: {type: 'category', position: 'left', offset: true, labels: predictedLabels,
        grid: {drawOnChartArea: false, tickLength: 2, tickColor: '#222', offset: false},
        border: {display: false},
        afterFit(s) { s.width = 105; },
        ticks: {autoSkip: false, padding: 1, color: gridText, font: {family: treeFont, size: 6.1}}}
    },
    plugins: {textLayer: {items: [
      {text: 'Predicted label', x: 8, y: 110, rot: -Math.PI / 2, font: '8px ' + treeFont, color: '#222'},
      {text: 'Cluster label', x: 451, y: 288, font: '8px ' + treeFont, color: '#222'}]}}
  }
});

// fraction colour key
new Chart(makeCanvas(660, 552, 139, 27), {
  type: 'bar',
  data: {labels: ['Fraction'], datasets: [{data: [[0, 1]], barPercentage: 1, categoryPercentage: 1, borderWidth: 0,
    backgroundColor(c) {
      const area = c.chart.chartArea;
      if (!area) return fractionColor(1);
      const g = c.chart.ctx.createLinearGradient(area.left, 0, area.right, 0);
      g.addColorStop(0, fractionColor(0));
      g.addColorStop(1, fractionColor(1));
      return g;
    }}]},
  plugins: [textLayer],
  options: {
    indexAxis: 'y',
    layout: {padding: {top: 6, right: 8, bottom: 0, left: 46}},
    scales: {
      x: {type: 'linear', min: 0, max: 1,
        grid: {color: 'rgba(255,255,255,.8)', z: 1, drawTicks: false},
        border: {display: false},
        afterFit(s) { s.height = 14; },
        afterBuildTicks(s) { s.ticks = fractionTicks.map(v => ({value: v})); },
        ticks: {color: '#333', padding: 3, maxRotation: 0, font: {family: sansFont, size: 6.4}, callback: v => String(v)}},
      y: {display: false}
    },
    plugins: {textLayer: {items: [{text: 'Fraction', x: 23, y: 17, font: '8px ' + treeFont, color: '#222'}]}}
  }
});
</script>
</body>
</html>
